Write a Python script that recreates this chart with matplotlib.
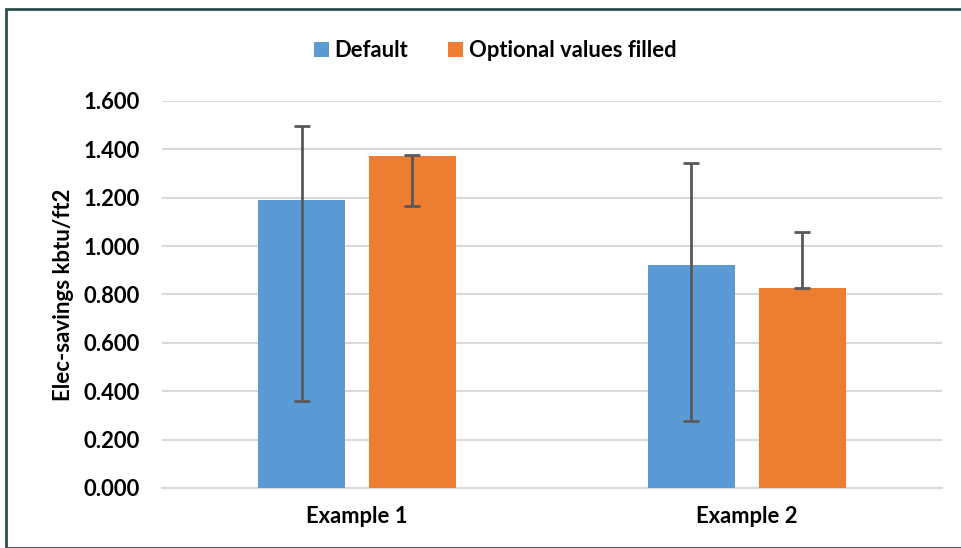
import matplotlib.pyplot as plt
import numpy as np
from matplotlib.patches import Rectangle

plt.rcParams['font.family'] = ['Lato', 'DejaVu Sans']

categories = ["Example 1", "Example 2"]
series = ["Default", "Optional values filled"]
colors = ["#5b9bd5", "#ed7d31"]

default_vals = [1.19, 0.922]
default_low = [0.361, 0.277]
default_high = [1.497, 1.342]

optional_vals = [1.374, 0.828]
optional_low = [1.166, 0.828]
optional_high = [1.377, 1.057]

fig = plt.figure(figsize=(9.61, 5.48), dpi=100)
ax = fig.add_axes([0.1686, 0.1095, 0.8114, 0.7062])

x = np.arange(len(categories))
w = 0.223
off = 0.142
err_kw = dict(ecolor="#595959", elinewidth=2, capsize=6, capthick=2)

vals_all = [default_vals, optional_vals]
lows = [default_low, optional_low]
highs = [default_high, optional_high]
for i, (vals, lo, hi) in enumerate(zip(vals_all, lows, highs)):
    vals = np.array(vals)
    yerr = [vals - np.array(lo), np.array(hi) - vals]
    ax.bar(x + (i * 2 - 1) * off, vals, w, color=colors[i], label=series[i],
           yerr=yerr, error_kw=err_kw, zorder=3)

ax.set_xlim(-0.5, 1.5)
ax.set_ylim(0, 1.6)
ax.set_yticks(np.arange(0, 1.61, 0.2))
ax.set_yticklabels([f"{v:.3f}" for v in np.arange(0, 1.61, 0.2)])
ax.set_xticks(x)
ax.set_xticklabels(categories)
for lab in ax.get_xticklabels() + ax.get_yticklabels():
    lab.set_fontweight("bold")
    lab.set_fontsize(15.8)
ax.tick_params(axis="y", length=0, pad=16)
ax.tick_params(axis="x", length=0, pad=13)
ax.grid(axis="y", color="#d9d9d9", linewidth=1.5, zorder=0)
for s in ["top", "right", "left"]:
    ax.spines[s].set_visible(False)
ax.spines["bottom"].set_color("#d9d9d9")
ax.spines["bottom"].set_linewidth(1.5)
ax.set_ylabel("Elec-savings kbtu/ft2", fontsize=16, fontweight="bold", labelpad=7)

fig.legend(loc="center", bbox_to_anchor=(0.515, 0.908), ncol=2, frameon=False,
           prop={"weight": "bold", "size": 15.8}, handlelength=0.7, handleheight=0.7,
           handletextpad=0.25, columnspacing=1.8)

fig.patches.append(Rectangle((0.006, 0.0), 1.2, 0.984, transform=fig.transFigure,
                             fill=False, edgecolor="#2f4f4f", linewidth=2))

fig.savefig("out.png", dpi=100)
